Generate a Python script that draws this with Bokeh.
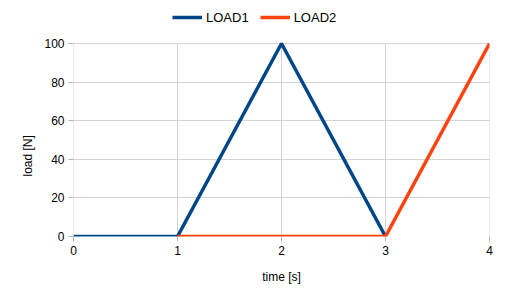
from bokeh.plotting import figure
from bokeh.models import Range1d, Legend, LegendItem, FixedTicker, Title
from bokeh.embed import file_html
from bokeh.resources import INLINE
import numpy as np

time_s = [0, 1, 2, 3, 4]
load1 = [0, 0, 100, 0, None]
load2 = [None, 0, 0, 0, 100]
x_ticks = [0, 1, 2, 3, 4]
y_ticks = [0, 20, 40, 60, 80, 100]

l1 = np.array([np.nan if v is None else v for v in load1], dtype=float)
l2 = np.array([np.nan if v is None else v for v in load2], dtype=float)

# frame spans the full top area so the legend can sit above the plotted region
frame_h = 236
plot_h = 193
y_top = max(y_ticks) * frame_h / plot_h

p = figure(width=511, height=304, output_backend="svg", toolbar_location=None,
           x_range=Range1d(0, 4), y_range=Range1d(0, y_top),
           min_border_left=73, min_border_right=22, min_border_top=0, min_border_bottom=68)
p.outline_line_color = None
p.background_fill_color = "white"
p.border_fill_color = "white"

# vertical grid limited to the value range
p.xgrid.visible = False
n = len(x_ticks)
p.segment(x0=x_ticks, y0=[min(y_ticks)] * n, x1=x_ticks, y1=[max(y_ticks)] * n,
          line_color="#d4d4d4", line_width=1)
p.ygrid.ticker = FixedTicker(ticks=y_ticks)
p.ygrid.grid_line_color = "#d4d4d4"
p.ygrid.grid_line_width = 1

r1 = p.line(time_s, l1, line_color="#004586", line_width=3.5)
r2 = p.line(time_s, l2, line_color="#ff420e", line_width=3.5)

for ax in (p.xaxis[0], p.yaxis[0]):
    ax.axis_line_color = None
    ax.major_tick_line_color = "#b3b3b3"
    ax.major_tick_out = 5
    ax.major_tick_in = 0
    ax.minor_tick_line_color = None
    ax.major_label_text_font = "Liberation Sans"
    ax.major_label_text_font_size = "12px"
    ax.major_label_text_color = "#000000"
    ax.axis_label_text_font = "Liberation Sans"
    ax.axis_label_text_font_size = "12px"
    ax.axis_label_text_font_style = "normal"
    ax.axis_label_text_color = "#000000"

p.xaxis.ticker = FixedTicker(ticks=x_ticks)
p.yaxis.ticker = FixedTicker(ticks=y_ticks)
p.xaxis.axis_label = "time [s]"
p.xaxis.major_label_standoff = 4
p.yaxis.major_label_standoff = 4
p.xaxis.axis_label_standoff = 12

# y-axis label as a side title, positioned along the value range
ylab = Title(text="load [N]", align="left", offset=60, standoff=14,
             text_font="Liberation Sans", text_font_size="12px",
             text_font_style="normal", text_color="#000000")
p.add_layout(ylab, "left")

legend = Legend(items=[LegendItem(label="LOAD1", renderers=[r1]),
                       LegendItem(label="LOAD2", renderers=[r2])],
                orientation="horizontal", location=(99, 209),
                glyph_width=30, label_standoff=4, spacing=11,
                padding=0, margin=0, border_line_color=None, background_fill_alpha=0,
                label_text_font="Liberation Sans", label_text_font_size="13px",
                label_text_color="#000000")
p.add_layout(legend, "center")

open("out.html", "w").write(file_html(p, INLINE))
